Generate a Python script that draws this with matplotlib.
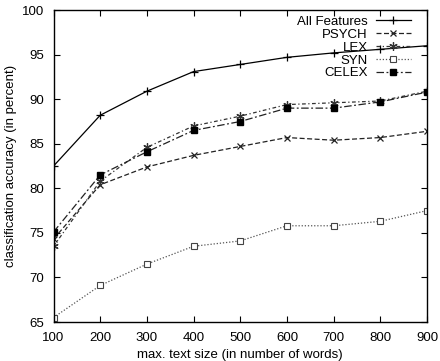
import numpy as np
from matplotlib import pyplot as plt

plt.rcParams['font.family'] = ['Liberation Sans', 'DejaVu Sans']

sizes = [100, 200, 300, 400, 500, 600, 700, 800, 900]
all_features = [82.5, 88.2, 90.9, 93.1, 93.9, 94.7, 95.2, 95.6, 96.0]
psych = [74.3, 80.4, 82.4, 83.7, 84.7, 85.7, 85.4, 85.7, 86.4]
lex = [73.5, 80.8, 84.6, 87.0, 88.1, 89.4, 89.6, 89.8, 90.9]
syn = [65.5, 69.1, 71.5, 73.5, 74.1, 75.8, 75.8, 76.3, 77.5]
celex = [75.1, 81.5, 84.1, 86.5, 87.5, 89.0, 89.0, 89.7, 90.8]

fs = 9.5

fig = plt.figure(figsize=(4.4, 3.61), dpi=100)
ax = fig.add_axes([0.1216, 0.108, 0.8489, 0.864])

ax.plot(sizes, all_features, color='black', lw=0.9, marker='+', ms=6, mew=0.9,
        label='All Features')
ax.plot(sizes, psych, color='#222222', lw=0.9, dashes=(4, 2), marker='x', ms=5, mew=0.9,
        label='PSYCH')
ax.plot(sizes, lex, color='#333333', lw=0.9, dashes=(3, 2, 1, 2), marker=(6, 2, 0), ms=6,
        mew=0.9, label='LEX')
ax.plot(sizes, syn, color='#555555', lw=0.9, dashes=(1, 1.5), marker='s', ms=5,
        mfc='white', mec='#444444', mew=0.8, label='SYN')
ax.plot(sizes, celex, color='#222222', lw=0.9, dashes=(6, 2, 1.5, 2), marker='s', ms=5,
        mfc='black', mec='black', label='CELEX')

ax.set_xlim(100, 900)
ax.set_ylim(65, 100)
ax.set_xticks(sizes)
ax.set_yticks(np.arange(65, 101, 5))
ax.tick_params(direction='in', top=True, right=True, labelsize=fs, length=4,
               width=0.8)
ax.tick_params(axis='x', pad=7)
ax.tick_params(axis='y', pad=7)
for s in ax.spines.values():
    s.set_linewidth(1.0)

ax.set_xlabel('max. text size (in number of words)', fontsize=fs, labelpad=4)
ax.set_ylabel('classification accuracy (in percent)', fontsize=fs, labelpad=3)

leg = ax.legend(loc='upper right', frameon=False, markerfirst=False, fontsize=fs,
                handlelength=2.7, labelspacing=0.05, borderaxespad=0.9, borderpad=0.3,
                handletextpad=0.6, bbox_to_anchor=(1.0, 1.033))
for t in leg.get_texts():
    t.set_ha('right')
leg._legend_box.align = 'right'

fig.savefig('out.png', dpi=100)
